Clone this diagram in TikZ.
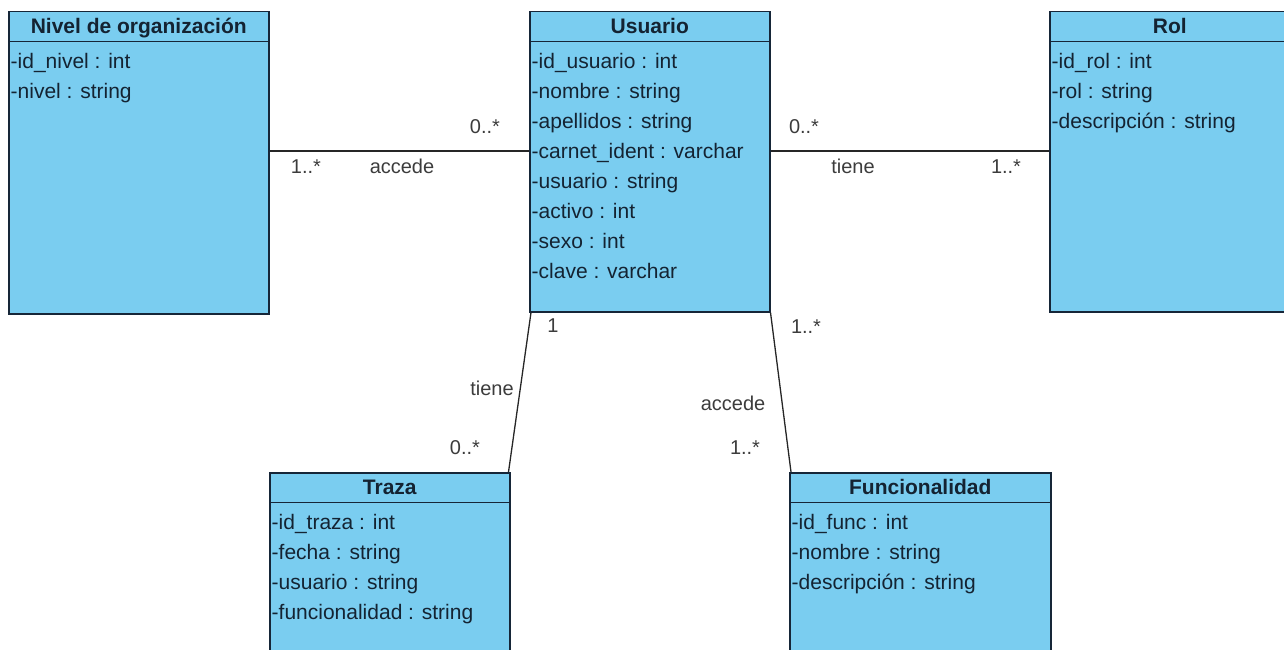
\documentclass[tikz,border=0pt]{standalone}
\usepackage{fontspec}
\setmainfont{Liberation Sans}
\usetikzlibrary{positioning}

\definecolor{umlfill}{RGB}{122,205,240}
\definecolor{umlline}{RGB}{22,38,56}
\definecolor{umltext}{RGB}{20,35,50}
\definecolor{asoctext}{RGB}{60,60,60}

\begin{document}
\begin{tikzpicture}[x=1pt, y={(0pt,-1pt)},
    classbox/.style={draw=umlline, fill=umlfill, line width=1.5pt, anchor=north west, inner sep=0pt},
    classname/.style={font=\fontsize{21}{30}\selectfont\bfseries, text=umltext, minimum height=30pt,
                      text height=16pt, text depth=2pt, inner sep=0pt, anchor=north},
    headline/.style={draw=umlline, line width=1.5pt},
    attrs/.style={font=\fontsize{21}{30}\selectfont, text=umltext, align=left, anchor=north west, inner sep=0pt},
    asocline/.style={draw=black!85, line width=1.3pt},
    mult/.style={font=\fontsize{20}{24}\selectfont, text=asoctext, anchor=base, inner sep=0pt}]

    \clip (0,0) rectangle (1284,650);

    % Clases
    \node[classbox, minimum width=260pt, minimum height=302pt] (nivel) at (8,11) {};
    \node[classname] (nivel-t) at (nivel.north) {Nivel de organización};
    \draw[headline] (nivel.west |- nivel-t.south) -- (nivel.east |- nivel-t.south);
    \node[attrs] (nivel-a) at ([shift={(2.5,36)}]nivel.north west)
      {\strut-id\_nivel : int\\ \strut-nivel : string};

    \node[classbox, minimum width=240pt, minimum height=300pt] (usuario) at (529,11) {};
    \node[classname] (usuario-t) at (usuario.north) {Usuario};
    \draw[headline] (usuario.west |- usuario-t.south) -- (usuario.east |- usuario-t.south);
    \node[attrs] (usuario-a) at ([shift={(2.5,36)}]usuario.north west)
      {\strut-id\_usuario : int\\ \strut-nombre : string\\ \strut-apellidos : string\\
       \strut-carnet\_ident : varchar\\ \strut-usuario : string\\ \strut-activo : int\\
       \strut-sexo : int\\ \strut-clave : varchar};

    \node[classbox, minimum width=250pt, minimum height=300pt] (rol) at (1049,11) {};
    \node[classname] (rol-t) at ([xshift=-5]rol.north) {Rol};
    \draw[headline] (rol.west |- rol-t.south) -- (rol.east |- rol-t.south);
    \node[attrs] (rol-a) at ([shift={(2.5,36)}]rol.north west)
      {\strut-id\_rol : int\\ \strut-rol : string\\ \strut-descripción : string};

    \node[classbox, minimum width=240pt, minimum height=250pt] (traza) at (269,472) {};
    \node[classname] (traza-t) at (traza.north) {Traza};
    \draw[headline] (traza.west |- traza-t.south) -- (traza.east |- traza-t.south);
    \node[attrs] (traza-a) at ([shift={(2.5,36)}]traza.north west)
      {\strut-id\_traza : int\\ \strut-fecha : string\\ \strut-usuario : string\\
       \strut-funcionalidad : string};

    \node[classbox, minimum width=261pt, minimum height=250pt] (func) at (789,472) {};
    \node[classname] (func-t) at (func.north) {Funcionalidad};
    \draw[headline] (func.west |- func-t.south) -- (func.east |- func-t.south);
    \node[attrs] (func-a) at ([shift={(2.5,36)}]func.north west)
      {\strut-id\_func : int\\ \strut-nombre : string\\ \strut-descripción : string};

    % Asociaciones
    \draw[asocline] (nivel.east |- 0,151) -- (usuario.west |- 0,151);
    \draw[asocline] (usuario.east |- 0,151) -- (rol.west |- 0,151);
    \draw[asocline] ([xshift=2]usuario.south west) -- ([xshift=-2]traza.north east);
    \draw[asocline] (usuario.south east) -- ([xshift=2]func.north west);

    % Multiplicidades y nombres
    \node[mult] (m-nivel-u) at (485,133) {0..*};
    \node[mult] (m-nivel)   at (306,173) {1..*};
    \node[mult] (n-accede1) at (402,173) {accede};
    \node[mult] (m-rol-u)   at (804,133) {0..*};
    \node[mult] (n-tiene1)  at (853,173) {tiene};
    \node[mult] (m-rol)     at (1006,173) {1..*};
    \node[mult] (m-traza-u) at (553,332) {1};
    \node[mult] (n-tiene2)  at (492,395) {tiene};
    \node[mult] (m-traza)   at (465,454) {0..*};
    \node[mult] (m-func-u)  at (806,333) {1..*};
    \node[mult] (n-accede2) at (733,410) {accede};
    \node[mult] (m-func)    at (745,454) {1..*};

\end{tikzpicture}
\end{document}
